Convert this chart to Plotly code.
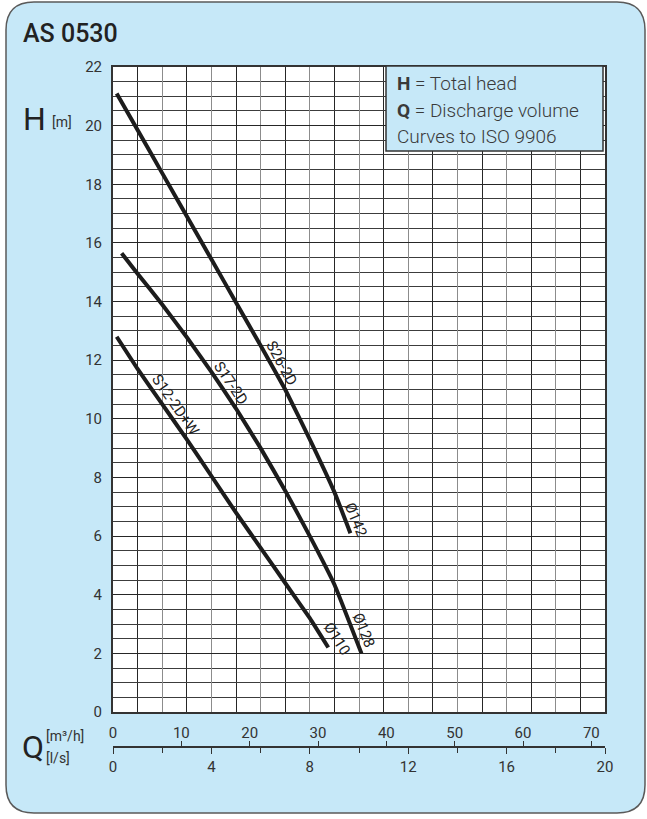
import numpy as np
import plotly.graph_objects as go

# ---------------- data ----------------
# flow in l/s, head in m
q_s26 = [0.15, 1, 2, 3, 4, 5, 6, 7, 8, 9, 9.65]
h_s26 = [21.1, 19.85, 18.38, 16.91, 15.44, 13.97, 12.5, 11.0, 9.3, 7.5, 6.1]

q_s17 = [0.35, 1, 2, 3, 4, 5, 6, 7, 8, 9, 10.1]
h_s17 = [15.65, 14.95, 13.9, 12.78, 11.6, 10.35, 9.0, 7.55, 6.0, 4.35, 2.0]

q_s12 = [0.15, 1, 2, 3, 4, 5, 6, 7, 8, 8.75]
h_s12 = [12.8, 11.7, 10.5, 9.3, 8.05, 6.8, 5.6, 4.4, 3.2, 2.2]

series_names = ["S26-2D", "S17-2D", "S12-2D+W"]
impeller_labels = ["Ø142", "Ø128", "Ø110"]

h_ticks = list(range(0, 23, 2))
ls_ticks = [0, 4, 8, 12, 16, 20]
m3h_ticks = [0, 10, 20, 30, 40, 50, 60, 70]

# ---------------- layout geometry ----------------
W, HGT = 647, 819
L, R, T, B = 113, 42, 67, 72
PW = W - L - R
PH = HGT - T - B
BASE = HGT - B
Y0PIX = 712
PX_PER_Q = PW / 20.0
PX_PER_H = (Y0PIX - T) / 22.0


def px(xp):
    return (xp - L) / PW


def py(yp):
    return (BASE - yp) / PH


ydom0 = py(Y0PIX)

BLUE = "#C6E8F8"
TXT = "#333333"
FONT = "Roboto"

fig = go.Figure()
curves = [(q_s26, h_s26), (q_s17, h_s17), (q_s12, h_s12)]
for q, h in curves:
    fig.add_trace(go.Scatter(x=q, y=h, mode="lines", xaxis="x", yaxis="y",
                             line=dict(color="#1c1c1c", width=4, shape="spline", smoothing=0.3),
                             hoverinfo="skip", showlegend=False))
fig.add_trace(go.Scatter(x=[None], y=[None], xaxis="x2", yaxis="y",
                         showlegend=False, hoverinfo="skip"))
fig.add_trace(go.Scatter(x=[None], y=[None], xaxis="x3", yaxis="y",
                         showlegend=False, hoverinfo="skip"))

# rounded background panel
x0, x1, y0, y1, r = 6, 645, 2, 813, 28
def P(a, b):
    return f"{px(a):.5f},{py(b):.5f}"
panel = (f"M {P(x0 + r, y0)} L {P(x1 - r, y0)} Q {P(x1, y0)} {P(x1, y0 + r)} "
         f"L {P(x1, y1 - r)} Q {P(x1, y1)} {P(x1 - r, y1)} "
         f"L {P(x0 + r, y1)} Q {P(x0, y1)} {P(x0, y1 - r)} "
         f"L {P(x0, y0 + r)} Q {P(x0, y0)} {P(x0 + r, y0)} Z")

shapes = [
    dict(type="path", path=panel, xref="paper", yref="paper", layer="below",
         fillcolor=BLUE, line=dict(color="#5a5a5a", width=1.5)),
    dict(type="rect", xref="paper", yref="paper", x0=0, x1=1, y0=ydom0, y1=1,
         layer="below", fillcolor="white", line=dict(width=0)),
    dict(type="rect", xref="paper", yref="paper", x0=px(386), x1=px(603),
         y0=py(151), y1=py(66), layer="above", fillcolor=BLUE,
         line=dict(color="#333333", width=1.5)),
]

ann = []
def note(text, xp, yp, size, xanchor="left", weight=None, color=TXT):
    f = dict(family=FONT, size=size, color=color)
    if weight:
        f["weight"] = weight
    ann.append(dict(text=text, x=px(xp), y=py(yp), xref="paper", yref="paper",
                    xanchor=xanchor, yanchor="middle", showarrow=False, font=f))

note("AS 0530", 21, 34, 25, weight=500, color="#222222")
note("H", 21, 119, 32, color="#222222")
note("[m]", 50, 122, 14)
note("Q", 20, 747, 32, color="#222222")
note("[m³/h]", 44, 736, 14)
note("[l/s]", 44, 758, 14)
note("<b>H</b> = Total head", 395, 83, 19, color="#3a3a3a", weight=300)
note("<b>Q</b> = Discharge volume", 395, 110, 19, color="#3a3a3a", weight=300)
note("Curves to ISO 9906", 395, 136, 19, color="#3a3a3a", weight=300)

# curve labels: anchored on the curve, shifted perpendicular to it (pixels)
curve_lbl = [
    (series_names[0], 0, 6.5, 10),
    (series_names[1], 1, 4.45, 10),
    (series_names[2], 2, 2.2, 10),
    (impeller_labels[0], 0, 9.5, 10),
    (impeller_labels[1], 1, 9.8, 11),
    (impeller_labels[2], 2, 8.7, 12),
]
for t, ci, qa, d in curve_lbl:
    q, h = curves[ci]
    ha = float(np.interp(qa, q, h))
    qa_l, qa_r = max(qa - 0.8, q[0]), min(qa + 0.8, q[-1])
    dh = (np.interp(qa_l, q, h) - np.interp(qa_r, q, h)) * PX_PER_H
    dq = (qa_r - qa_l) * PX_PER_Q
    ang = float(np.degrees(np.arctan2(dh, dq)))
    th = np.radians(ang)
    ann.append(dict(text=t, x=qa, y=ha, xref="x", yref="y", showarrow=False,
                    textangle=ang, xshift=d * np.sin(th), yshift=d * np.cos(th),
                    font=dict(family=FONT, size=15, color="#222222")))

fig.update_layout(
    width=W, height=HGT,
    margin=dict(l=L, r=R, t=T, b=B, pad=0),
    paper_bgcolor="white", plot_bgcolor="rgba(0,0,0,0)",
    showlegend=False,
    shapes=shapes, annotations=ann,
    xaxis=dict(domain=[0, 1], range=[0, 20], anchor="y", tick0=0, dtick=2,
               showticklabels=False, ticks="", showgrid=True,
               gridcolor="#8c8c8c", gridwidth=1,
               minor=dict(tick0=0, dtick=1, showgrid=True, gridcolor="#262626", gridwidth=1),
               showline=True, mirror=True, linecolor="#333333", linewidth=2,
               zeroline=False, fixedrange=True),
    yaxis=dict(domain=[ydom0, 1], range=[0, 22], tickvals=h_ticks,
               showgrid=True, gridcolor="#262626", gridwidth=1,
               minor=dict(tick0=0, dtick=0.5, showgrid=True, gridcolor="#3c3c3c", gridwidth=1),
               showline=True, mirror=True, linecolor="#333333", linewidth=2,
               ticks="", ticklabelstandoff=6,
               tickfont=dict(family=FONT, size=15, color=TXT),
               zeroline=False, fixedrange=True),
    xaxis2=dict(overlaying="x", anchor="free", position=0, side="bottom",
                range=[0, 20], tickvals=ls_ticks, ticks="outside", ticklen=6,
                tickcolor="#333333", tickwidth=1.2,
                minor=dict(tick0=0, dtick=2, ticks="outside", ticklen=5,
                           tickcolor="#333333", tickwidth=1.2),
                showline=True, linecolor="#333333", linewidth=1.5,
                showgrid=False, zeroline=False,
                tickfont=dict(family=FONT, size=15, color=TXT), fixedrange=True),
    xaxis3=dict(overlaying="x", anchor="free", position=0, side="bottom",
                range=[0, 72], tickvals=m3h_ticks, ticks="inside", ticklen=6,
                tickcolor="#333333", tickwidth=1.2,
                ticklabelposition="inside", ticklabeloverflow="allow",
                showline=False, showgrid=False, zeroline=False,
                tickfont=dict(family=FONT, size=15, color=TXT), fixedrange=True),
)

fig.write_html("out.html", config={"displayModeBar": False},
               post_script="document.body.style.margin='0';")
